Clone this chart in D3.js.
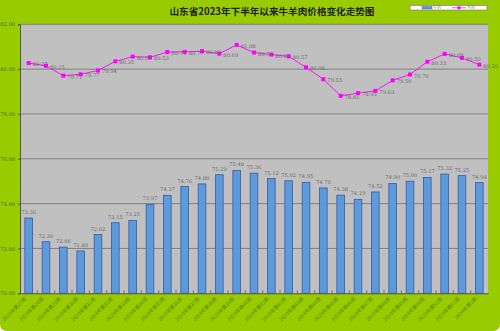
<!DOCTYPE html>
<html>
<head>
<meta charset="utf-8">
<script src="https://cdn.jsdelivr.net/npm/d3@7/dist/d3.min.js"></script>
<style>
  html, body { margin: 0; padding: 0; background: #ffffff; }
  svg { display: block; }
</style>
</head>
<body>
<svg id="chart" width="500" height="331"></svg>
<script>
// Weekly prices, Shandong, second half of 2023 (元/公斤)
const weeks = [
  "2023年第27周","2023年第28周","2023年第29周","2023年第30周","2023年第31周",
  "2023年第32周","2023年第33周","2023年第34周","2023年第35周","2023年第36周",
  "2023年第37周","2023年第38周","2023年第39周","2023年第40周","2023年第41周",
  "2023年第42周","2023年第43周","2023年第44周","2023年第45周","2023年第46周",
  "2023年第47周","2023年第48周","2023年第49周","2023年第50周","2023年第51周",
  "2023年第52周","2024年第1周"
];
const beef = [
  73.36, 72.30, 72.06, 71.89, 72.62, 73.15, 73.25, 73.97, 74.37, 74.76,
  74.88, 75.29, 75.48, 75.36, 75.12, 75.02, 74.95, 74.70, 74.38, 74.19,
  74.52, 74.90, 75.00, 75.17, 75.32, 75.25, 74.94
];
const mutton = [
  80.27, 80.15, 79.71, 79.77, 79.94, 80.35, 80.56, 80.53, 80.76, 80.77,
  80.80, 80.69, 81.08, 80.74, 80.65, 80.57, 80.08, 79.55, 78.81, 78.93,
  79.03, 79.50, 79.76, 80.33, 80.68, 80.50, 80.20
];
const yTicks = [70, 72, 74, 76, 78, 80, 82];
const seriesNames = ["牛肉", "羊肉"];
const titleText = "山东省2023年下半年以来牛羊肉价格变化走势图";

const W = 500, H = 331;
const plot = { left: 20, right: 488, top: 24.3, bottom: 293.3 };
const svg = d3.select("#chart");
const cjk = "'Noto Sans CJK SC', 'DejaVu Sans', sans-serif";
const serif = "'DejaVu Serif', 'Liberation Serif', serif";

// Green frame with rounded lower corners
const r = 7;
svg.append("path")
  .attr("d", `M0,0 H${W} V${H - r} Q${W},${H} ${W - r},${H} H${r} Q0,${H} 0,${H - r} Z`)
  .attr("fill", "#99cc00");

const x = d3.scaleBand().domain(weeks).range([plot.left, plot.right]).paddingInner(0.56).paddingOuter(0.28);
const xc = d3.scaleBand().domain(weeks).range([plot.left, plot.right]);
const y = d3.scaleLinear().domain([70, 82]).range([plot.bottom, plot.top]);

// Plot background
svg.append("rect")
  .attr("x", plot.left).attr("y", plot.top)
  .attr("width", plot.right - plot.left).attr("height", plot.bottom - plot.top)
  .attr("fill", "#c0c0c0");

// Gridlines
svg.append("g").selectAll("line").data(yTicks.slice(1)).join("line")
  .attr("x1", plot.left).attr("x2", plot.right)
  .attr("y1", d => y(d)).attr("y2", d => y(d))
  .attr("stroke", "#808080").attr("stroke-width", 1);

// Y axis
const yAxis = svg.append("g").attr("transform", `translate(${plot.left},0)`)
  .call(d3.axisLeft(y).tickValues(yTicks).tickFormat(d3.format(".2f")).tickSize(2).tickPadding(3));
yAxis.select(".domain").attr("stroke", "#555");
yAxis.selectAll(".tick line").attr("stroke", "#555");
yAxis.selectAll("text").attr("font-family", serif).attr("font-size", 5.2).attr("fill", "#555");

// Bars
svg.append("g").selectAll("rect").data(beef).join("rect")
  .attr("x", (d, i) => x(weeks[i]))
  .attr("y", d => y(d))
  .attr("width", x.bandwidth())
  .attr("height", d => plot.bottom - y(d))
  .attr("fill", "#5b9bd9")
  .attr("stroke", "#3c55b0").attr("stroke-width", 0.8);

// Bar labels
svg.append("g").selectAll("text").data(beef).join("text")
  .attr("x", (d, i) => x(weeks[i]) + x.bandwidth() / 2)
  .attr("y", d => y(d) - 4)
  .attr("text-anchor", "middle")
  .attr("font-family", serif).attr("font-size", 5.2).attr("fill", "#666")
  .text(d => d.toFixed(2));

// X axis
const xAxis = svg.append("g").attr("transform", `translate(0,${plot.bottom})`)
  .call(d3.axisBottom(xc).tickSize(0).tickFormat(""));
xAxis.select(".domain").attr("stroke", "#555");
svg.append("g").selectAll("line").data(weeks.slice(1)).join("line")
  .attr("x1", d => xc(d)).attr("x2", d => xc(d))
  .attr("y1", plot.bottom).attr("y2", plot.bottom - 3)
  .attr("stroke", "#555").attr("stroke-width", 0.8);

// Rotated week labels
svg.append("g").selectAll("text").data(weeks).join("text")
  .attr("transform", d => `translate(${xc(d) + xc.bandwidth() / 2 - 2},${plot.bottom + 6}) rotate(-45)`)
  .attr("text-anchor", "end")
  .attr("font-family", cjk).attr("font-size", 5).attr("fill", "#5f7f00")
  .text(d => d);

// Mutton line
const lineGen = d3.line()
  .x((d, i) => xc(weeks[i]) + xc.bandwidth() / 2)
  .y(d => y(d));
svg.append("path").datum(mutton)
  .attr("d", lineGen)
  .attr("fill", "none").attr("stroke", "#ff00ff").attr("stroke-width", 0.9);
svg.append("g").selectAll("rect").data(mutton).join("rect")
  .attr("x", (d, i) => xc(weeks[i]) + xc.bandwidth() / 2 - 2)
  .attr("y", d => y(d) - 2)
  .attr("width", 4).attr("height", 4)
  .attr("fill", "#ff00ff");
svg.append("g").selectAll("text").data(mutton).join("text")
  .attr("x", (d, i) => xc(weeks[i]) + xc.bandwidth() / 2 + 4)
  .attr("y", d => y(d) + 3)
  .attr("font-family", serif).attr("font-size", 5.2).attr("fill", "#666")
  .text(d => d.toFixed(2));

// Title
svg.append("text")
  .attr("x", 272).attr("y", 15)
  .attr("text-anchor", "middle")
  .attr("font-family", cjk).attr("font-weight", "bold").attr("font-size", 9.6)
  .attr("fill", "#222")
  .text(titleText);

// Legend
const lg = svg.append("g");
lg.append("rect").attr("x", 410).attr("y", 5.5).attr("width", 77).attr("height", 4.5)
  .attr("fill", "#ffffff").attr("stroke", "#777").attr("stroke-width", 0.6);
lg.append("rect").attr("x", 422).attr("y", 6.5).attr("width", 10).attr("height", 2.5)
  .attr("fill", "#5b9bd9").attr("stroke", "#3c55b0").attr("stroke-width", 0.4);
lg.append("text").attr("x", 433).attr("y", 9.4)
  .attr("font-family", cjk).attr("font-size", 4).attr("fill", "#777").text(seriesNames[0]);
lg.append("line").attr("x1", 452).attr("x2", 466).attr("y1", 7.75).attr("y2", 7.75)
  .attr("stroke", "#ff00ff").attr("stroke-width", 0.7);
lg.append("rect").attr("x", 457.5).attr("y", 6.25).attr("width", 3).attr("height", 3).attr("fill", "#ff00ff");
lg.append("text").attr("x", 467).attr("y", 9.4)
  .attr("font-family", cjk).attr("font-size", 4).attr("fill", "#777").text(seriesNames[1]);
</script>
</body>
</html>
